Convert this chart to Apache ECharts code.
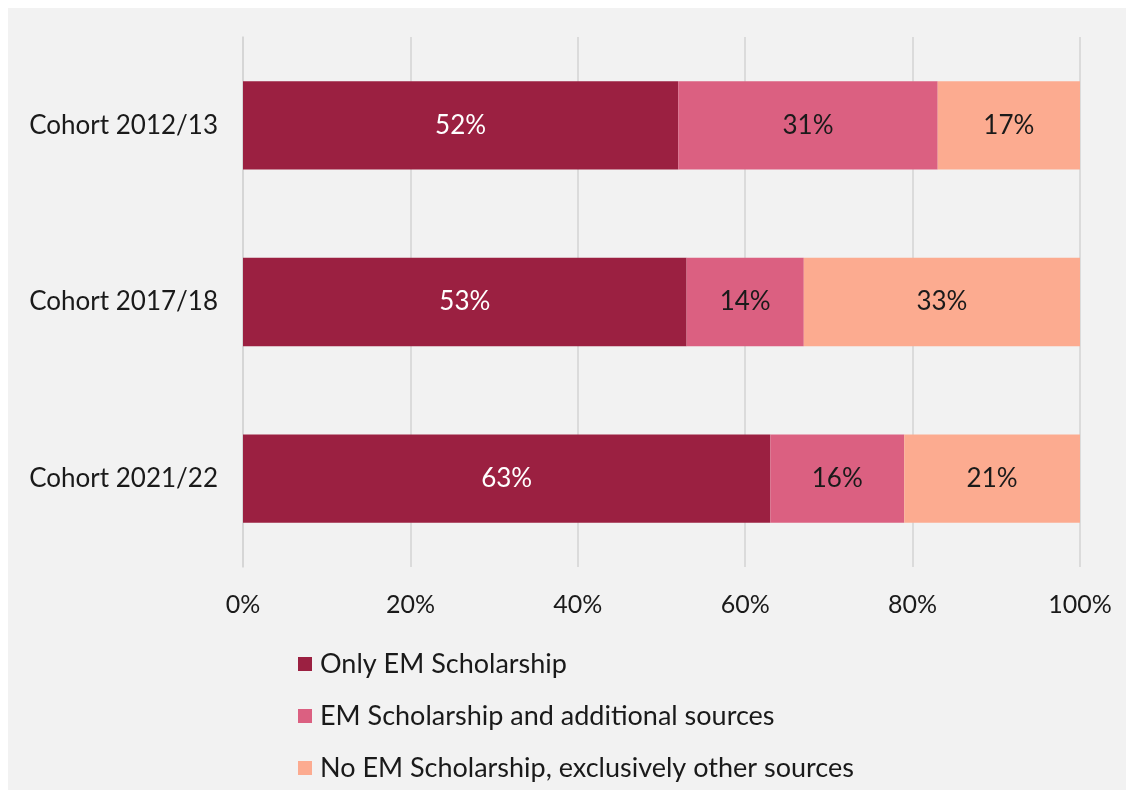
<!DOCTYPE html>
<html>
<head>
<meta charset="utf-8">
<script src="https://cdn.jsdelivr.net/npm/echarts@6/dist/echarts.min.js"></script>
<style>
  html, body { margin: 0; padding: 0; background: #fff; }
  #chart {
    width: 1134px;
    height: 798px;
    box-sizing: border-box;
    border: 8px solid #fff;
    background: #f2f2f2;
  }
</style>
</head>
<body>
<div id="chart"></div>
<script>
// 类别（从上到下）
const cohorts = ['Cohort 2012/13', 'Cohort 2017/18', 'Cohort 2021/22'];
// 各资金来源占比 (%)
const onlyEM = [52, 53, 63];
const emAndOther = [31, 14, 16];
const noEM = [17, 33, 21];
const seriesNames = [
  'Only EM Scholarship',
  'EM Scholarship and additional sources',
  'No EM Scholarship, exclusively other sources'
];
const xTicks = [0, 20, 40, 60, 80, 100];

const colors = ['#9b2041', '#db6081', '#fcab90'];
const fontFamily = 'Lato, "Noto Sans", sans-serif';
const textColor = '#1a1a1a';

const chart = echarts.init(document.getElementById('chart'));

const makeSeries = (name, data, color, labelColor) => ({
  name: name,
  type: 'bar',
  stack: 'total',
  data: data,
  barWidth: '50%',
  itemStyle: { color: color },
  label: {
    show: true,
    position: 'inside',
    formatter: '{c}%',
    color: labelColor,
    fontSize: 26,
    fontFamily: fontFamily
  }
});

const option = {
  animation: false,
  textStyle: { fontFamily: fontFamily },
  grid: {
    left: 235,
    right: 46,
    top: 29,
    bottom: 223
  },
  xAxis: {
    type: 'value',
    min: xTicks[0],
    max: xTicks[xTicks.length - 1],
    interval: 20,
    axisLine: { show: false },
    axisTick: { show: false },
    splitLine: { lineStyle: { color: '#d3d3d3', width: 1.5 } },
    axisLabel: {
      formatter: '{value}%',
      color: textColor,
      fontSize: 25,
      margin: 25,
      fontFamily: fontFamily
    }
  },
  yAxis: {
    type: 'category',
    inverse: true,
    data: cohorts,
    axisLine: { show: true, lineStyle: { color: '#d3d3d3', width: 1.5 } },
    axisTick: { show: false },
    axisLabel: {
      color: textColor,
      fontSize: 26,
      margin: 25,
      fontFamily: fontFamily
    }
  },
  legend: {
    orient: 'vertical',
    left: 290,
    top: 641,
    padding: 0,
    itemWidth: 14,
    itemHeight: 14,
    itemGap: 22,
    icon: 'rect',
    data: seriesNames,
    textStyle: {
      color: textColor,
      fontSize: 27,
      lineHeight: 30,
      padding: [0, 0, 0, 3],
      fontFamily: fontFamily
    }
  },
  series: [
    makeSeries(seriesNames[0], onlyEM, colors[0], '#ffffff'),
    makeSeries(seriesNames[1], emAndOther, colors[1], textColor),
    makeSeries(seriesNames[2], noEM, colors[2], textColor)
  ]
};

chart.setOption(option);
window.addEventListener('resize', () => chart.resize());
</script>
</body>
</html>
